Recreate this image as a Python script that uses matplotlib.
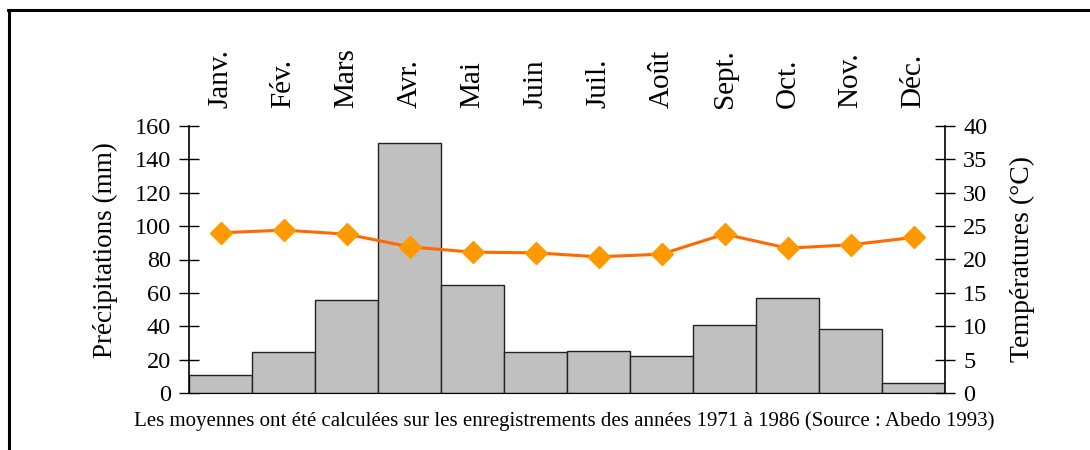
import matplotlib
matplotlib.use("Agg")
import matplotlib.pyplot as plt
from matplotlib.lines import Line2D
import numpy as np

months = ["Janv.", "Fév.", "Mars", "Avr.", "Mai", "Juin", "Juil.", "Août", "Sept.", "Oct.", "Nov.", "Déc."]
precip_mm = [11, 24.5, 56, 150, 65, 24.5, 25, 22, 40.5, 57, 38.3, 6]
temp_c = [24.0, 24.4, 23.8, 21.9, 21.1, 21.0, 20.4, 20.8, 23.8, 21.7, 22.2, 23.3]
precip_ticks = [0, 20, 40, 60, 80, 100, 120, 140, 160]
temp_ticks = [0, 5, 10, 15, 20, 25, 30, 35, 40]
caption = "Les moyennes ont été calculées sur les enregistrements des années 1971 à 1986 (Source : Abedo 1993)"

plt.rcParams['font.family'] = ['Liberation Serif', 'DejaVu Serif']

W, H = 1090, 450
fig = plt.figure(figsize=(W / 100, H / 100), dpi=100)
ax = fig.add_axes([189 / W, 1 - 393 / H, (945 - 189) / W, (393 - 126) / H])

x = np.arange(len(months))
ax.bar(x, precip_mm, width=1.0, color="#c0c0c0", edgecolor="#222222", linewidth=1.0, zorder=2)
ax.set_xlim(-0.5, len(months) - 0.5)
ax.set_ylim(0, 160)
ax.set_yticks(precip_ticks)
ax.set_xticks(x)
ax.set_xticklabels(months, rotation=90, fontsize=21)
ax.xaxis.tick_top()
ax.tick_params(axis="x", length=0, pad=13)
ax.tick_params(axis="y", direction="inout", length=14, width=1, labelsize=17.5, pad=6)
for s in ["top", "right"]:
    ax.spines[s].set_visible(False)
ax.spines["left"].set_linewidth(1.2)
ax.set_ylabel("Précipitations (mm)", fontsize=19.5, labelpad=12)
ax.yaxis.label.set_y(0.535)

ax2 = ax.twinx()
ax2.plot(x, temp_c, color="#ff6a00", linewidth=2.2, marker="D", markersize=11,
         markerfacecolor="#ff9900", markeredgecolor="#ff9900", zorder=3)
ax2.set_ylim(0, 40)
ax2.set_yticks(temp_ticks)
ax2.tick_params(axis="y", direction="inout", length=14, width=1, labelsize=17.5, pad=6)
for s in ["top", "left", "bottom"]:
    ax2.spines[s].set_visible(False)
ax2.spines["right"].set_linewidth(1.2)
ax2.set_ylabel("Températures (°C)", fontsize=20, labelpad=16)

fig.text(564 / W, 1 - 421 / H, caption, ha="center", va="center", fontsize=15)

fig.add_artist(Line2D([8 / W, 1.0], [1 - 10 / H, 1 - 10 / H], color="black", linewidth=2.2, transform=fig.transFigure))
fig.add_artist(Line2D([9 / W, 9 / W], [1 - 10 / H, 0.0], color="black", linewidth=2.2, transform=fig.transFigure))

fig.savefig("out.png", dpi=100)
